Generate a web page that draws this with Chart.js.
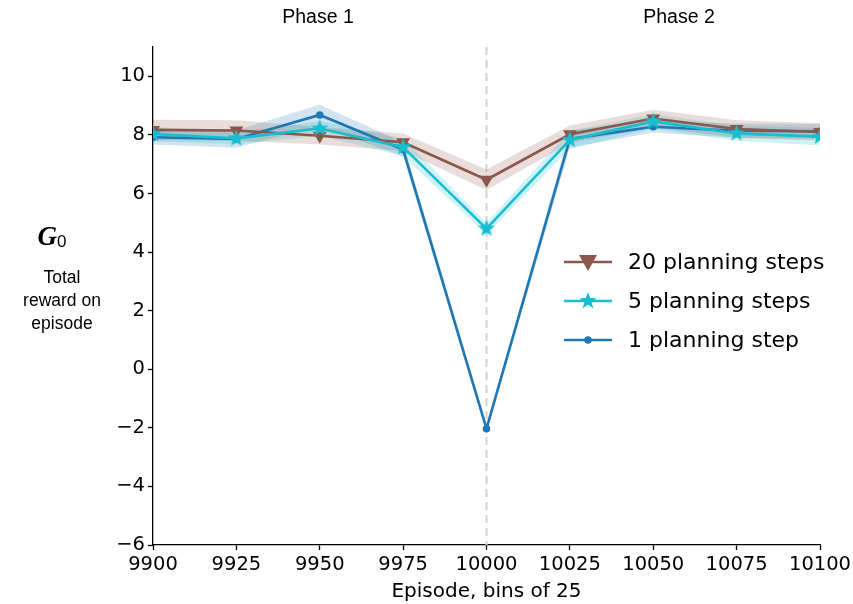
<!DOCTYPE html>
<html>
<head>
<meta charset="utf-8">
<script src="https://cdn.jsdelivr.net/npm/chart.js@4.4.1/dist/chart.umd.min.js"></script>
<style>
  html, body { margin: 0; padding: 0; background: #fff; }
  #wrap { width: 853px; height: 604px; position: relative; }
</style>
</head>
<body>
<div id="wrap"><canvas id="chart" width="853" height="604"></canvas></div>
<script>
// episodes (bins of 25)
const episodes = [9900, 9925, 9950, 9975, 10000, 10025, 10050, 10075, 10100];

const steps20 = [8.17, 8.15, 7.97, 7.75, 6.47, 8.02, 8.56, 8.2, 8.1];
const steps20Err = [0.35, 0.35, 0.3, 0.3, 0.35, 0.3, 0.3, 0.3, 0.3];

const steps5 = [8.03, 7.88, 8.22, 7.58, 4.8, 7.83, 8.46, 8.05, 7.94];
const steps5Err = [0.25, 0.2, 0.25, 0.3, 0.2, 0.3, 0.25, 0.25, 0.3];

const steps1 = [7.92, 7.86, 8.68, 7.5, -2.03, 7.86, 8.28, 8.14, 8.12];
const steps1Err = [0.25, 0.3, 0.35, 0.25, 0.12, 0.3, 0.2, 0.25, 0.25];

const seriesNames = ['20 planning steps', '5 planning steps', '1 planning step'];
const yTicks = [-6, -4, -2, 0, 2, 4, 6, 8, 10];
const phaseLabels = ['Phase 1', 'Phase 2'];

const BROWN = '#8c564b', CYAN = '#17becf', BLUE = '#1f77b4';

// filled 5-point star for the 5-step series
function starImage(r, color) {
    const c = document.createElement('canvas');
    c.width = c.height = r * 2 + 2;
    const g = c.getContext('2d');
    g.translate(r + 1, r + 1);
    g.beginPath();
    for (let i = 0; i < 10; i++) {
        const rad = i % 2 === 0 ? r : r * 0.42;
        const a = -Math.PI / 2 + i * Math.PI / 5;
        g.lineTo(rad * Math.cos(a), rad * Math.sin(a));
    }
    g.closePath();
    g.fillStyle = color;
    g.fill();
    return c;
}
const star = starImage(9, CYAN);

const pts = arr => arr.map((v, i) => ({ x: episodes[i], y: v }));
const band = (vals, err, sign) => vals.map((v, i) => ({ x: episodes[i], y: v + sign * err[i] }));

function bandSets(vals, err, rgba) {
    return [
        { data: band(vals, err, 1), borderWidth: 0, pointRadius: 0, fill: false, order: 10 },
        { data: band(vals, err, -1), borderWidth: 0, pointRadius: 0, fill: '-1', backgroundColor: rgba, order: 10 }
    ];
}

const datasets = [
    ...bandSets(steps20, steps20Err, 'rgba(140,86,75,0.2)'),
    ...bandSets(steps5, steps5Err, 'rgba(23,190,207,0.2)'),
    ...bandSets(steps1, steps1Err, 'rgba(31,119,180,0.2)'),
    { label: seriesNames[2], data: pts(steps1), borderColor: BLUE, backgroundColor: BLUE, borderWidth: 2.6,
      pointStyle: 'circle', pointRadius: 3.8, pointBorderWidth: 0, order: 3 },
    { label: seriesNames[0], data: pts(steps20), borderColor: BROWN, backgroundColor: BROWN, borderWidth: 2.6,
      pointStyle: 'triangle', pointRotation: 180, pointRadius: 8, pointBorderWidth: 0, order: 2 },
    { label: seriesNames[1], data: pts(steps5), borderColor: CYAN, backgroundColor: CYAN, borderWidth: 2.6,
      pointStyle: star, order: 1 }
];

const overlay = {
    id: 'overlay',
    beforeDatasetsDraw(chart) {
        const { ctx, chartArea, scales } = chart;
        const x = scales.x.getPixelForValue(10000);
        ctx.save();
        ctx.strokeStyle = '#d3d3d3';
        ctx.lineWidth = 2;
        ctx.setLineDash([8, 5]);
        ctx.beginPath();
        ctx.moveTo(x, chartArea.top);
        ctx.lineTo(x, chartArea.bottom);
        ctx.stroke();
        ctx.restore();
    },
    afterDraw(chart) {
        const { ctx } = chart;
        ctx.save();
        ctx.fillStyle = '#000';
        ctx.textAlign = 'center';
        ctx.textBaseline = 'middle';
        ctx.font = '19.5px "Liberation Sans", Arial, sans-serif';
        ctx.fillText(phaseLabels[0], 318, 18);
        ctx.fillText(phaseLabels[1], 679, 18);

        // y label
        ctx.font = 'bold italic 27px "Liberation Serif", "DejaVu Serif", serif';
        ctx.textAlign = 'right';
        ctx.fillText('G', 57, 238);
        ctx.textAlign = 'left';
        ctx.font = '17px "Liberation Sans", Arial, sans-serif';
        ctx.fillText('0', 57, 242);
        ctx.textAlign = 'center';
        ctx.font = '17.5px "Liberation Sans", Arial, sans-serif';
        ctx.fillText('Total', 62, 278);
        ctx.fillText('reward on', 62, 301);
        ctx.fillText('episode', 62, 324);

        // legend
        const rows = [
            { name: seriesNames[0], color: BROWN, mark: 'tri' },
            { name: seriesNames[1], color: CYAN, mark: 'star' },
            { name: seriesNames[2], color: BLUE, mark: 'dot' }
        ];
        ctx.font = '22px "DejaVu Sans", sans-serif';
        ctx.textAlign = 'left';
        rows.forEach((r, i) => {
            const y = 262 + i * 39;
            ctx.strokeStyle = r.color;
            ctx.fillStyle = r.color;
            ctx.lineWidth = 2.6;
            ctx.beginPath();
            ctx.moveTo(564, y);
            ctx.lineTo(612, y);
            ctx.stroke();
            if (r.mark === 'tri') {
                ctx.beginPath();
                ctx.moveTo(579, y - 7);
                ctx.lineTo(597, y - 7);
                ctx.lineTo(588, y + 9);
                ctx.closePath();
                ctx.fill();
            } else if (r.mark === 'star') {
                ctx.drawImage(star, 588 - star.width / 2, y - star.height / 2);
            } else {
                ctx.beginPath();
                ctx.arc(588, y, 3.8, 0, Math.PI * 2);
                ctx.fill();
            }
            ctx.fillStyle = '#000';
            ctx.fillText(r.name, 628, y + 1);
        });
        ctx.restore();
    }
};

new Chart(document.getElementById('chart'), {
    type: 'line',
    data: { datasets },
    options: {
        responsive: false,
        animation: false,
        layout: { padding: { top: 47, right: 33, left: 0, bottom: 0 } },
        plugins: { legend: { display: false }, tooltip: { enabled: false } },
        scales: {
            x: {
                type: 'linear',
                min: 9900, max: 10100,
                afterFit: s => { s.height = 59; s.paddingRight = 0; s.paddingLeft = 0; },
                ticks: { stepSize: 25, color: '#000', padding: 3, maxRotation: 0,
                         font: { family: '"DejaVu Sans", sans-serif', size: 19.5 },
                         callback: v => String(v) },
                grid: { drawOnChartArea: false, tickLength: 5, tickColor: '#000', tickWidth: 1.3 },
                border: { color: '#000', width: 1.3 },
                title: { display: true, text: 'Episode, bins of 25', color: '#000', padding: { top: 2, bottom: 0 },
                         font: { family: '"DejaVu Sans", sans-serif', size: 20 } }
            },
            y: {
                min: -6, max: 11,
                afterFit: s => { s.width = 153; s.paddingTop = 0; s.paddingBottom = 0; },
                afterBuildTicks: s => { s.ticks = yTicks.map(v => ({ value: v })); },
                ticks: { color: '#000', padding: 3,
                         font: { family: '"DejaVu Sans", sans-serif', size: 19.5 },
                         callback: v => String(v).replace('-', '\u2212') },
                grid: { drawOnChartArea: false, tickLength: 5, tickColor: '#000', tickWidth: 1.3 },
                border: { color: '#000', width: 1.3 }
            }
        }
    },
    plugins: [overlay]
});
</script>
</body>
</html>
